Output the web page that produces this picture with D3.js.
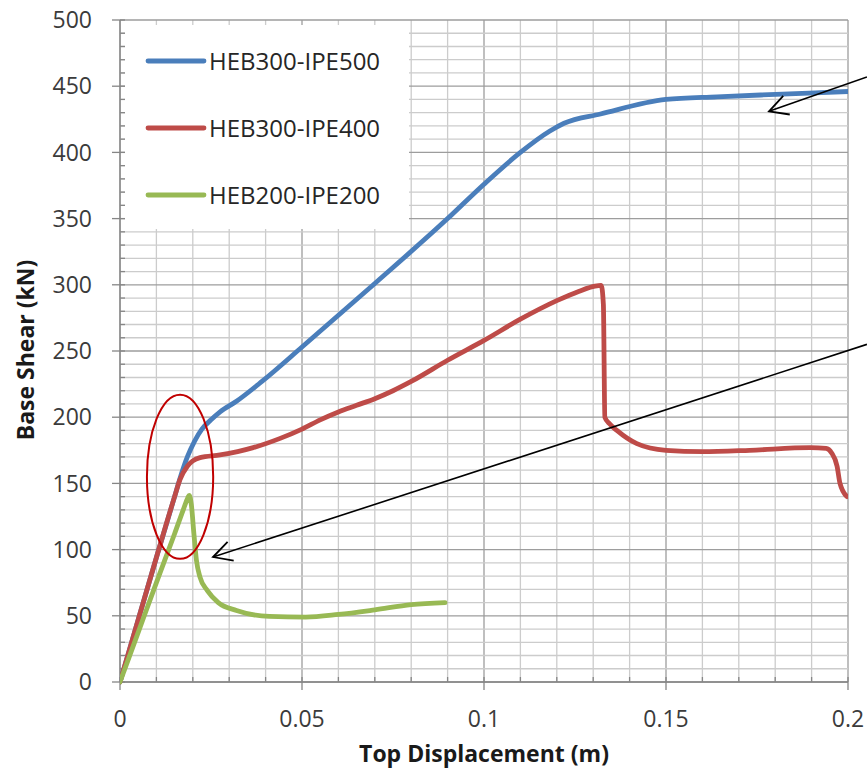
<!DOCTYPE html>
<html>
<head>
<meta charset="utf-8">
<script src="https://cdn.jsdelivr.net/npm/d3@7/dist/d3.min.js"></script>
<style>
  html, body { margin: 0; padding: 0; background: #fff; }
  svg { display: block; }
  text { font-family: "Open Sans", "DejaVu Sans", sans-serif; }
</style>
</head>
<body>
<svg id="chart" width="867" height="777"></svg>
<script>
// Pushover curves: top displacement (m) vs base shear (kN)
const seriesNames = ["HEB300-IPE500", "HEB300-IPE400", "HEB200-IPE200"];
const seriesColors = ["#4A7EBB", "#BE4B48", "#98B954"];

const dispA = [0, 0.005, 0.01, 0.015, 0.0165, 0.0185, 0.0205, 0.0225, 0.025, 0.0275, 0.032, 0.039, 0.05, 0.07, 0.09, 0.1, 0.11, 0.118, 0.122, 0.132, 0.15, 0.164, 0.182, 0.2];
const shearA = [0, 47, 94, 140, 154, 170, 182, 191, 198, 204, 212, 227, 253, 301, 350, 376, 400, 416, 422, 429, 440, 442, 444, 446];

const dispB = [0, 0.005, 0.01, 0.015, 0.0165, 0.0185, 0.02, 0.022, 0.0275, 0.0366, 0.044, 0.05, 0.055, 0.06, 0.065, 0.07, 0.075, 0.08, 0.09, 0.1, 0.11, 0.12, 0.126, 0.1305, 0.1322, 0.1328, 0.1332, 0.1345, 0.1365, 0.142, 0.15, 0.16, 0.173, 0.1896, 0.194, 0.1955, 0.197, 0.1978, 0.1997];
const shearB = [0, 47, 94, 140, 153, 163, 167, 169.5, 171.5, 177, 184, 191, 198, 204, 209, 214, 220, 227, 243, 258, 274, 288, 295, 299, 299.5, 285, 200, 195, 190, 180, 175, 174, 175, 177, 176.5, 173, 163, 150, 140];

const dispC = [0, 0.005, 0.01, 0.015, 0.0175, 0.0186, 0.019, 0.0196, 0.0203, 0.021, 0.022, 0.024, 0.027, 0.032, 0.041, 0.051, 0.06, 0.07, 0.08, 0.0893];
const shearC = [0, 37.5, 75, 112, 131, 139, 141, 134, 112, 92, 79, 69, 60, 54, 49.5, 49, 51, 54.5, 58.5, 60];

const xTicks = [0, 0.05, 0.1, 0.15, 0.2];
const xTickLabels = ["0", "0.05", "0.1", "0.15", "0.2"];
const yTicks = [0, 50, 100, 150, 200, 250, 300, 350, 400, 450, 500];
const xTitle = "Top Displacement (m)";
const yTitle = "Base Shear (kN)";

// Annotations in data units: highlighted region and two pointer arrows
const ellipseCenter = [0.0165, 155];
const ellipseRadii = [0.0091, 62];
const arrowFrom = [[0.2052, 457], [0.2052, 255]];
const arrowTo = [[0.1783, 431], [0.02555, 94.4]];

const series = [
  { name: seriesNames[0], color: seriesColors[0], pts: d3.zip(dispA, shearA) },
  { name: seriesNames[1], color: seriesColors[1], pts: d3.zip(dispB, shearB) },
  { name: seriesNames[2], color: seriesColors[2], pts: d3.zip(dispC, shearC) }
];

const svg = d3.select("#chart");
const L = 120, T = 20, R = 848, B = 682;
const x = d3.scaleLinear().domain([0, 0.2]).range([L, R]);
const y = d3.scaleLinear().domain([0, 500]).range([B, T]);

// grid
const grid = svg.append("g");
const xMinor = d3.range(0, 21).map(i => i * 0.01);
const yMinor = d3.range(0, 51).map(i => i * 10);
grid.selectAll(".vx").data(xMinor).join("line")
  .attr("x1", d => x(d)).attr("x2", d => x(d)).attr("y1", T).attr("y2", B)
  .attr("stroke", (d, i) => i % 5 === 0 ? "#9d9d9d" : "#cccccc").attr("stroke-width", 1.3);
grid.selectAll(".hy").data(yMinor).join("line")
  .attr("x1", L).attr("x2", R).attr("y1", d => y(d)).attr("y2", d => y(d))
  .attr("stroke", (d, i) => i % 5 === 0 ? "#9d9d9d" : "#cccccc").attr("stroke-width", 1.3);

// axes
const ax = svg.append("g");
ax.append("line").attr("x1", L).attr("x2", L).attr("y1", T).attr("y2", B).attr("stroke", "#868686").attr("stroke-width", 1.3);
ax.append("line").attr("x1", L).attr("x2", R).attr("y1", B).attr("y2", B).attr("stroke", "#868686").attr("stroke-width", 1.3);
ax.selectAll(".yt").data(yTicks).join("line")
  .attr("x1", L - 8).attr("x2", L).attr("y1", d => y(d)).attr("y2", d => y(d)).attr("stroke", "#868686").attr("stroke-width", 1.3);
ax.selectAll(".ymt").data(yMinor).join("line")
  .attr("x1", L).attr("x2", L + 5).attr("y1", d => y(d)).attr("y2", d => y(d)).attr("stroke", "#868686").attr("stroke-width", 1.3);
ax.selectAll(".xt").data(xTicks).join("line")
  .attr("x1", d => x(d)).attr("x2", d => x(d)).attr("y1", B).attr("y2", B + 8).attr("stroke", "#868686").attr("stroke-width", 1.3);
ax.selectAll(".xmt").data(xMinor).join("line")
  .attr("x1", d => x(d)).attr("x2", d => x(d)).attr("y1", B - 5).attr("y2", B).attr("stroke", "#868686").attr("stroke-width", 1.3);

ax.selectAll(".yl").data(yTicks).join("text")
  .attr("x", 92).attr("y", d => y(d)).attr("dy", "0.36em")
  .attr("text-anchor", "end").attr("font-size", 23).attr("fill", "#3b3b3b")
  .text(d => d);
ax.selectAll(".xl").data(xTicks).join("text")
  .attr("x", d => x(d)).attr("y", 727)
  .attr("text-anchor", "middle").attr("font-size", 23).attr("fill", "#3b3b3b")
  .text((d, i) => xTickLabels[i]);

svg.append("text").attr("x", 484).attr("y", 762).attr("text-anchor", "middle")
  .attr("font-size", 23).attr("font-weight", "bold").attr("fill", "#1a1a1a").text(xTitle);
svg.append("text").attr("transform", "translate(34,350) rotate(-90)").attr("text-anchor", "middle")
  .attr("font-size", 23).attr("font-weight", "bold").attr("fill", "#1a1a1a").text(yTitle);

// legend box
const lg = svg.append("g");
lg.append("rect").attr("x", 125).attr("y", 25).attr("width", 284).attr("height", 204).attr("fill", "#fff");

// series
svg.append("clipPath").attr("id", "plotClip").append("rect")
  .attr("x", L).attr("y", T - 5).attr("width", R - L).attr("height", B - T + 10);
const line = d3.line().x(d => x(d[0])).y(d => y(d[1])).curve(d3.curveMonotoneX);
svg.append("g").attr("clip-path", "url(#plotClip)")
  .selectAll("path").data(series).join("path")
  .attr("d", d => line(d.pts)).attr("fill", "none")
  .attr("stroke", d => d.color).attr("stroke-width", 4.8)
  .attr("stroke-linejoin", "round").attr("stroke-linecap", "round");

// legend entries
const legendY = [61, 128, 195];
series.forEach((s, i) => {
  lg.append("line").attr("x1", 148).attr("x2", 204).attr("y1", legendY[i]).attr("y2", legendY[i])
    .attr("stroke", s.color).attr("stroke-width", 4.8).attr("stroke-linecap", "round");
  lg.append("text").attr("x", 209).attr("y", legendY[i]).attr("dy", "0.36em")
    .attr("font-size", 24).attr("fill", "#262626").text(s.name);
});

// annotations
const ann = svg.append("g");
ann.append("ellipse")
  .attr("cx", x(ellipseCenter[0])).attr("cy", y(ellipseCenter[1]))
  .attr("rx", x(ellipseRadii[0]) - x(0)).attr("ry", y(0) - y(ellipseRadii[1]))
  .attr("fill", "none").attr("stroke", "#C00000").attr("stroke-width", 2);

arrowFrom.forEach((f, i) => {
  const x0 = x(f[0]), y0 = y(f[1]), x1 = x(arrowTo[i][0]), y1 = y(arrowTo[i][1]);
  ann.append("line").attr("x1", x0).attr("y1", y0).attr("x2", x1).attr("y2", y1)
    .attr("stroke", "#000").attr("stroke-width", 1.6);
  const a = Math.atan2(y0 - y1, x0 - x1), len = 21, spread = 28 * Math.PI / 180;
  const w1 = [x1 + len * Math.cos(a - spread), y1 + len * Math.sin(a - spread)];
  const w2 = [x1 + len * Math.cos(a + spread), y1 + len * Math.sin(a + spread)];
  ann.append("path").attr("d", `M${w1[0]},${w1[1]}L${x1},${y1}L${w2[0]},${w2[1]}`)
    .attr("fill", "none").attr("stroke", "#000").attr("stroke-width", 1.8);
});
</script>
</body>
</html>
